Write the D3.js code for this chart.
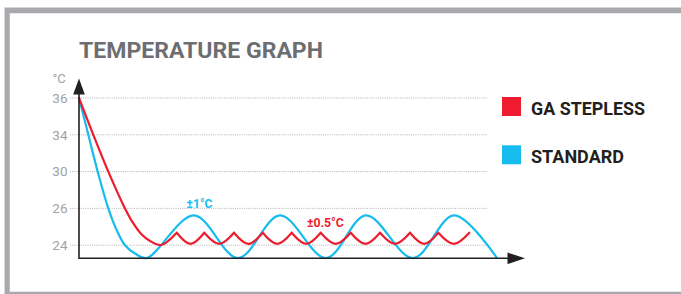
<!DOCTYPE html>
<html>
<head>
<meta charset="utf-8">
<script src="https://cdn.jsdelivr.net/npm/d3@7"></script>
<style>
  body { margin: 0; background: #fff; }
  svg { display: block; }
</style>
</head>
<body>
<div id="chart"></div>
<script>
// tick labels on the temperature axis (evenly spaced, not linear)
const tempTicks = [36, 34, 30, 26, 24]

// [time, °C]
const standardPoints = [
  [0, 36], [2.09, 34], [4.19, 30], [6.57, 26], [8.3, 24.9], [10.31, 24], [12.56, 23.55],
  [15.18, 23.3], [25.78, 25.62], [35.65, 23.3], [45.07, 25.62], [55.38, 23.3],
  [64.35, 25.62], [74.89, 23.3], [84.08, 25.62], [93.72, 23.3]
]

const steplessPoints = [
  [0, 36], [3.21, 34], [6.57, 30], [10.31, 26], [12.11, 25.21], [14.06, 24.58],
  [15.92, 24.23], [18.39, 24.01], [21.91, 24.68],
  [25.0, 24.07], [28.09, 24.68], [31.42, 24.07], [34.75, 24.68],
  [37.97, 24.07], [41.19, 24.68], [44.44, 24.07], [47.69, 24.68],
  [50.94, 24.07], [54.19, 24.68], [57.56, 24.07], [60.92, 24.68],
  [64.21, 24.07], [67.49, 24.68], [70.86, 24.07], [74.22, 24.68],
  [77.39, 24.07], [80.56, 24.68], [84.04, 24.07], [87.51, 24.68]
]

const seriesNames = ['GA STEPLESS', 'STANDARD']
const seriesColors = ['#ed1c2e', '#16bcee']

const annotations = [
  { text: '±1°C', t: 24.1, temp: 26.05, series: 1, width: 26 },
  { text: '±0.5°C', t: 51.1, temp: 24.98, series: 0, width: 37 }
]

d3.select(window).on('load', () => {
  let svg = d3.select('#chart').append('svg')
    .attr('width', 681)
    .attr('height', 294)

  // frame
  svg.append('path')
    .attr('d', 'M 700 10.5 H 7 V 294.5 H 700')
    .attr('fill', 'none')
    .style('stroke', '#a7a9ac')
    .style('stroke-width', 5.5)
  svg.append('path')
    .attr('d', 'M 700 7.5 H 4.5 V 294')
    .attr('fill', 'none')
    .style('stroke', '#d6d7d9')
    .style('stroke-width', 1)

  svg.append('text')
    .attr('x', 79)
    .attr('y', 58)
    .text('TEMPERATURE GRAPH')
    .attr('textLength', 244)
    .attr('lengthAdjust', 'spacingAndGlyphs')
    .style('font-family', 'Roboto, sans-serif')
    .style('font-weight', 'bold')
    .style('font-size', '22px')
    .style('fill', '#6d6e71')

  let x = d3.scaleLinear().domain([0, 100]).range([79, 525])
  let y = d3.scaleLinear()
    .domain(tempTicks)
    .range(tempTicks.map((d, i) => 98 + i * 36.8))

  let chart = svg.append('g')

  // dotted grid
  chart.selectAll('.grid')
    .data(tempTicks)
    .enter().append('line')
    .attr('class', 'grid')
    .attr('x1', 70)
    .attr('x2', 488)
    .attr('y1', d => y(d))
    .attr('y2', d => y(d))
    .style('stroke', '#9d9fa2')
    .style('stroke-width', 0.8)
    .style('stroke-dasharray', '1,1.2')

  let yAxis = chart.append('g')
    .attr('transform', 'translate(67.5, 0)')
    .call(d3.axisLeft(y).tickValues(tempTicks).tickSize(0).tickPadding(0).tickFormat(d3.format('d')))
  yAxis.select('.domain').remove()
  yAxis.selectAll('text')
    .style('font-family', 'Roboto, sans-serif')
    .style('font-size', '13.5px')
    .style('fill', '#a0a2a5')

  chart.append('text')
    .attr('x', 52.5)
    .attr('y', 82.5)
    .text('°C')
    .style('font-family', 'Roboto, sans-serif')
    .style('font-size', '13px')
    .style('fill', '#a0a2a5')

  let baseY = 258.3

  // curves
  let line = d3.line()
    .x(d => x(d[0]))
    .y(d => y(d[1]))
    .curve(d3.curveCatmullRom.alpha(0.5))

  chart.append('path')
    .attr('d', line(standardPoints))
    .attr('fill', 'none')
    .style('stroke', seriesColors[1])
    .style('stroke-width', 2.2)

  // stepless: split at the sharp peaks
  let segments = [[steplessPoints[0]]]
  steplessPoints.slice(1).forEach((p, i) => {
    segments[segments.length - 1].push(p)
    let prev = steplessPoints[i]
    let next = steplessPoints[i + 2]
    if (next && p[1] > prev[1] && p[1] > next[1]) segments.push([p])
  })
  chart.append('path')
    .attr('d', segments.map(s => line(s)).join(''))
    .attr('fill', 'none')
    .style('stroke', seriesColors[0])
    .style('stroke-width', 2.2)
    .style('stroke-linecap', 'round')

  // axes with arrows
  chart.append('line')
    .attr('x1', x(0)).attr('x2', 510)
    .attr('y1', baseY).attr('y2', baseY)
    .style('stroke', '#231f20')
    .style('stroke-width', 1.6)
  chart.append('line')
    .attr('x1', x(0)).attr('x2', x(0))
    .attr('y1', baseY + 0.8).attr('y2', 92)
    .style('stroke', '#231f20')
    .style('stroke-width', 1.6)
  chart.append('path')
    .attr('d', `M ${x(100)} ${baseY} L 507.5 ${baseY - 5.8} L 507.5 ${baseY + 5.8} Z`)
    .style('fill', '#231f20')
  chart.append('path')
    .attr('d', `M ${x(0)} 78.5 L ${x(0) - 5.8} 94.5 L ${x(0) + 5.8} 94.5 Z`)
    .style('fill', '#231f20')

  chart.selectAll('.note')
    .data(annotations)
    .enter().append('text')
    .attr('class', 'note')
    .attr('x', d => x(d.t))
    .attr('y', d => y(d.temp))
    .text(d => d.text)
    .attr('textLength', d => d.width)
    .attr('lengthAdjust', 'spacingAndGlyphs')
    .style('font-family', 'Roboto, sans-serif')
    .style('font-weight', 'bold')
    .style('font-size', '12px')
    .style('fill', d => seriesColors[d.series])

  // legend
  let legend = svg.append('g').attr('transform', 'translate(502, 97)')
  let item = legend.selectAll('.item')
    .data(seriesNames)
    .enter().append('g')
    .attr('class', 'item')
    .attr('transform', (d, i) => `translate(0, ${i * 48.3})`)
  item.append('rect')
    .attr('width', 19)
    .attr('height', 19)
    .style('fill', (d, i) => seriesColors[i])
  item.append('text')
    .attr('x', 29)
    .attr('y', 18)
    .text(d => d)
    .attr('textLength', (d, i) => [114, 93][i])
    .attr('lengthAdjust', 'spacingAndGlyphs')
    .style('font-family', 'Roboto, sans-serif')
    .style('font-weight', 'bold')
    .style('font-size', '18px')
    .style('fill', '#231f20')
})
</script>
</body>
</html>
